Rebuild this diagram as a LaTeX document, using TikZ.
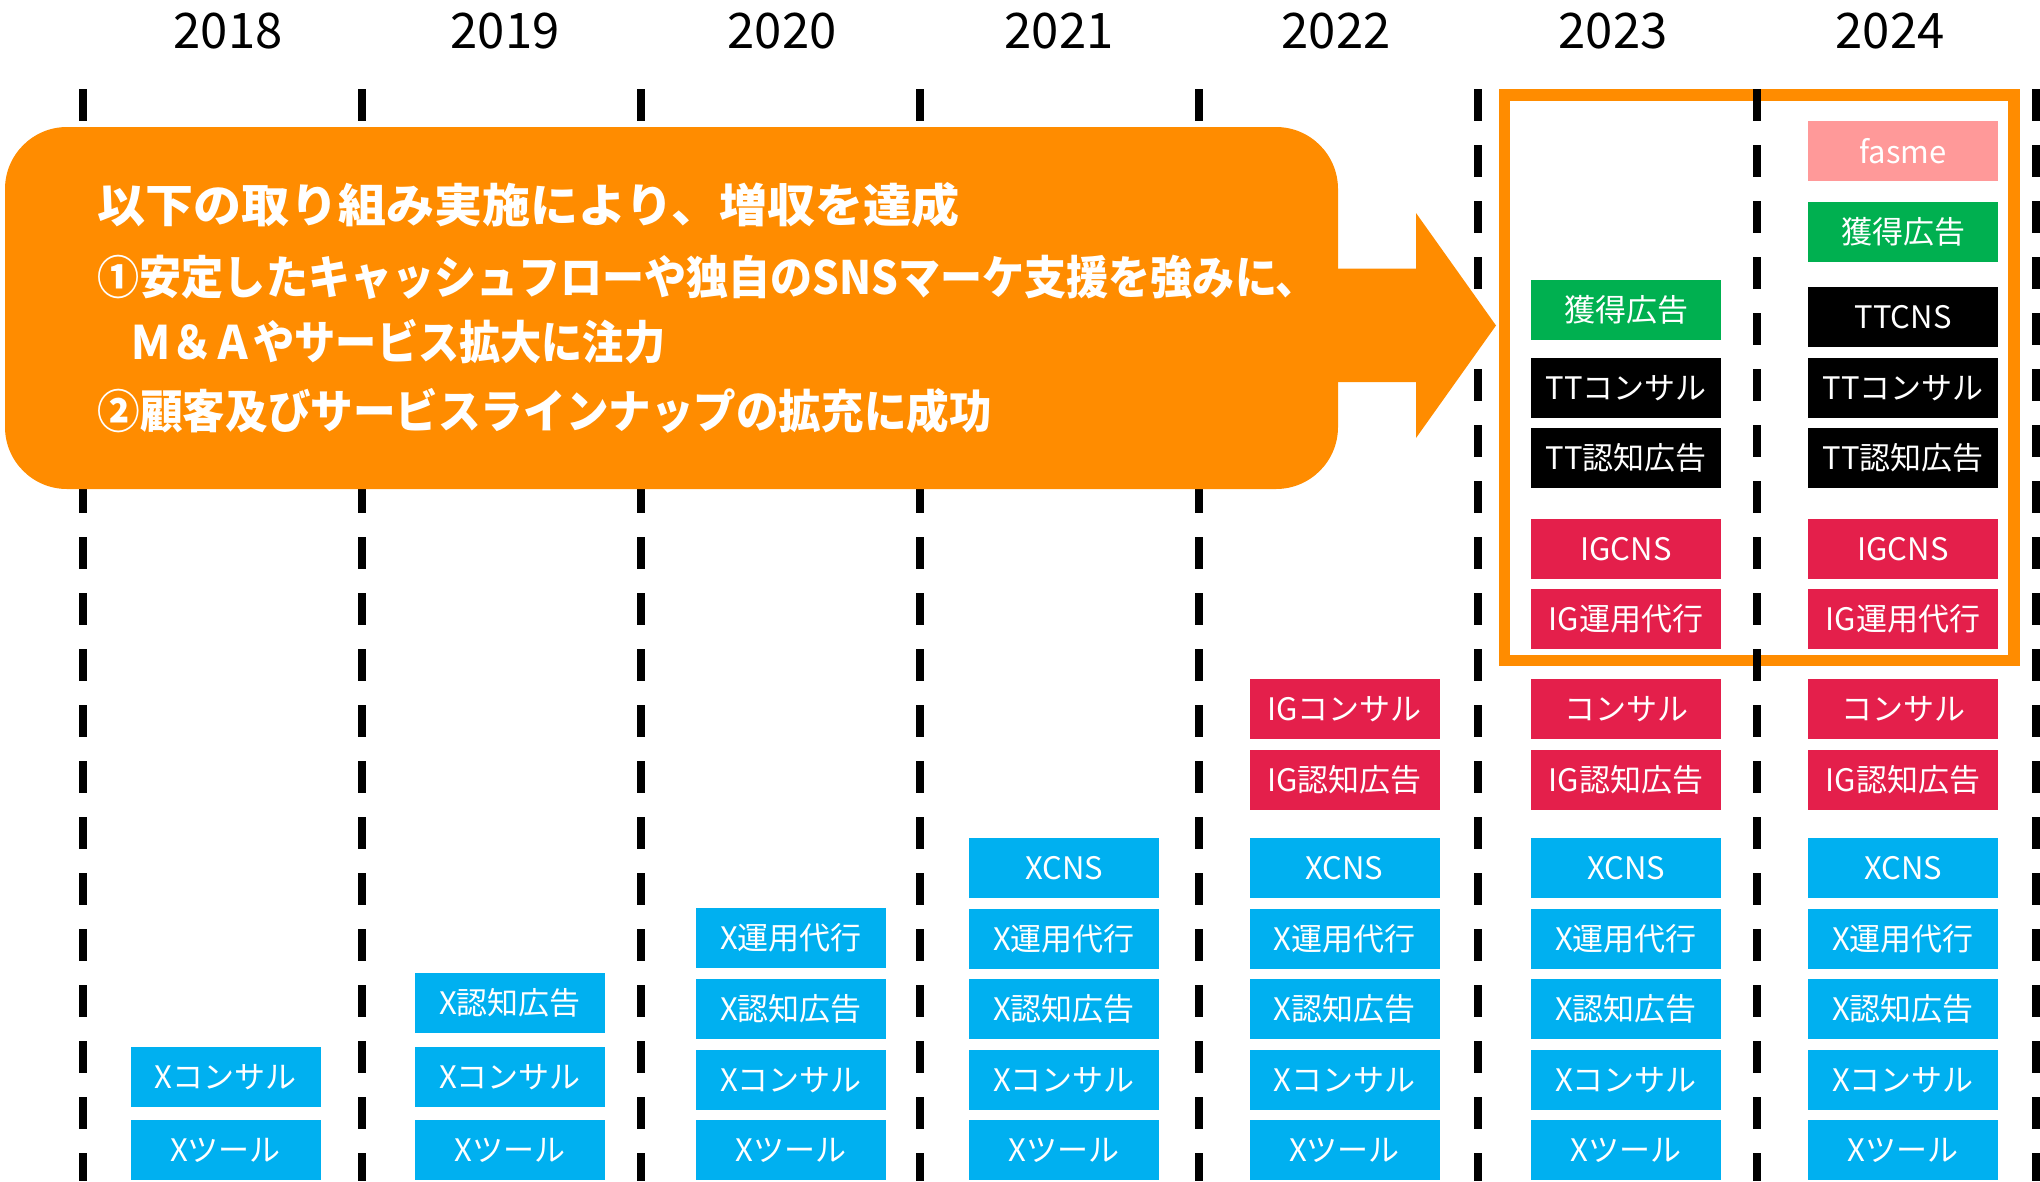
\documentclass[tikz,border=0pt]{standalone}
\usepackage{graphicx}
\usepackage{fontspec}
\setmainfont{Noto Sans CJK JP}
\newfontfamily\jp{Noto Sans CJK JP}
\definecolor{orng}{HTML}{FF8C00}
\definecolor{xblue}{HTML}{00B0F0}
\definecolor{igred}{HTML}{E41F4B}
\definecolor{acqgreen}{HTML}{00B050}
\definecolor{fpink}{HTML}{FF9999}
\tikzset{
  vline/.style={line width=8pt, black, dash pattern=on 32pt off 24pt},
  bx/.style={minimum width=190pt, minimum height=59.5pt, inner sep=0pt, text=white,
     font=\jp\fontsize{31}{31}\selectfont},
  xb/.style={bx, fill=xblue},
  rb/.style={bx, fill=igred},
  gb/.style={bx, fill=acqgreen},
  kb/.style={bx, fill=black},
  pb/.style={bx, fill=fpink},
  yr/.style={inner sep=0pt, font=\jp\fontsize{49}{49}\selectfont},
  callout/.style={fill=orng, rounded corners=62pt, minimum width=1333pt, minimum height=362pt},
  cl/.style={anchor=west, inner sep=0pt, text=white, font=\jp\bfseries\fontsize{46}{46}\selectfont}
}
\begin{document}
\begin{tikzpicture}[x=1pt,y=-1pt]
\useasboundingbox (0,0) rectangle (2040,1181);
% highlight frame
\draw[orng, line width=11.5pt] (1504.5,95) rectangle (2014,660.5);
% year separators
\foreach \i in {0,...,7} \draw[vline] ({83+279*\i},89) -- ({83+279*\i},1181);
% years
\node[yr] (y2018) at (228,31) {2018};
\node[yr] (y2019) at (505,31) {2019};
\node[yr] (y2020) at (782,31) {2020};
\node[yr] (y2021) at (1059,31) {2021};
\node[yr] (y2022) at (1336,31) {2022};
\node[yr] (y2023) at (1613,31) {2023};
\node[yr] (y2024) at (1890,31) {2024};
% callout
\node[callout] (callout) at (671.5,308) {};
\fill[orng] (1330,268.7) -- (1416,268.7) -- (1416,213) -- (1496,325.5) -- (1416,438) -- (1416,382) -- (1330,382) -- cycle;
\node[cl] (t1) at (97.6,205) {\resizebox{862pt}{\height}{以下の取り組み実施により、増収を達成}};
\node[cl] (t2) at (97.6,277) {\resizebox{1220pt}{\height}{①安定したキャッシュフローや独自のSNSマーケ支援を強みに、}};
\node[cl] (t3) at (130,342) {\resizebox{535pt}{\height}{Ｍ＆Ａやサービス拡大に注力}};
\node[cl] (t4) at (97.6,411) {\resizebox{894pt}{\height}{②顧客及びサービスラインナップの拡充に成功}};
% 2018
\node[xb] (a4) at (225.5,1077) {Xコンサル};
\node[xb] (a5) at (225.5,1150) {Xツール};
% 2019
\node[xb] (b3) at (510,1003) {X認知広告};
\node[xb] (b4) at (510,1077) {Xコンサル};
\node[xb] (b5) at (510,1150) {Xツール};
% 2020
\node[xb] (c2) at (791,938) {X運用代行};
\node[xb] (c3) at (791,1009) {X認知広告};
\node[xb] (c4) at (791,1080) {Xコンサル};
\node[xb] (c5) at (791,1150) {Xツール};
% 2021
\node[xb] (d1) at (1064,868) {XCNS};
\node[xb] (d2) at (1064,939) {X運用代行};
\node[xb] (d3) at (1064,1009) {X認知広告};
\node[xb] (d4) at (1064,1080) {Xコンサル};
\node[xb] (d5) at (1064,1150) {Xツール};
% 2022
\node[rb] (e7) at (1344.5,709) {IGコンサル};
\node[rb] (e8) at (1344.5,780) {IG認知広告};
\node[xb] (e1) at (1344.5,868) {XCNS};
\node[xb] (e2) at (1344.5,939) {X運用代行};
\node[xb] (e3) at (1344.5,1009) {X認知広告};
\node[xb] (e4) at (1344.5,1080) {Xコンサル};
\node[xb] (e5) at (1344.5,1150) {Xツール};
% 2023
\node[gb] (f12) at (1626,310) {獲得広告};
\node[kb] (f11) at (1626,388) {TTコンサル};
\node[kb] (f10) at (1626,458) {TT認知広告};
\node[rb] (f9) at (1626,549) {IGCNS};
\node[rb] (f6) at (1626,619) {IG運用代行};
\node[rb] (f7) at (1626,709) {コンサル};
\node[rb] (f8) at (1626,780) {IG認知広告};
\node[xb] (f1) at (1626,868) {XCNS};
\node[xb] (f2) at (1626,939) {X運用代行};
\node[xb] (f3) at (1626,1009) {X認知広告};
\node[xb] (f4) at (1626,1080) {Xコンサル};
\node[xb] (f5) at (1626,1150) {Xツール};
% 2024
\node[pb] (g14) at (1903,151) {fasme};
\node[gb] (g12) at (1903,232) {獲得広告};
\node[kb] (g13) at (1903,317) {TTCNS};
\node[kb] (g11) at (1903,388) {TTコンサル};
\node[kb] (g10) at (1903,458) {TT認知広告};
\node[rb] (g9) at (1903,549) {IGCNS};
\node[rb] (g6) at (1903,619) {IG運用代行};
\node[rb] (g7) at (1903,709) {コンサル};
\node[rb] (g8) at (1903,780) {IG認知広告};
\node[xb] (g1) at (1903,868) {XCNS};
\node[xb] (g2) at (1903,939) {X運用代行};
\node[xb] (g3) at (1903,1009) {X認知広告};
\node[xb] (g4) at (1903,1080) {Xコンサル};
\node[xb] (g5) at (1903,1150) {Xツール};
\end{tikzpicture}
\end{document}
